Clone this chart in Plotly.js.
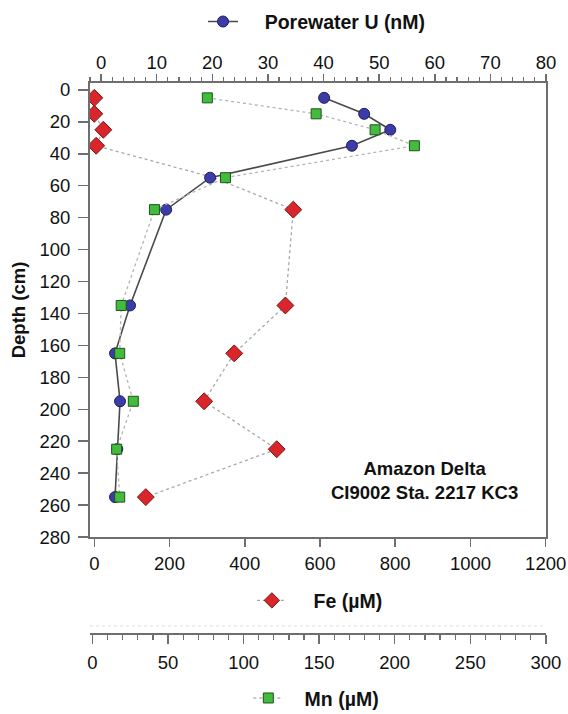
<!DOCTYPE html>
<html>
<head>
<meta charset="utf-8">
<script src="https://cdn.plot.ly/plotly-3.0.1.min.js"></script>
<style>html,body{margin:0;padding:0;background:#fff;}#chart{width:568px;height:714px;}</style>
</head>
<body>
<div id="chart"></div>
<script>
// Depths (cm)
const depthU  = [5, 15, 25, 35, 55, 75, 135, 165, 195, 225, 255];
const uValues = [40.1, 47.3, 52.0, 45.1, 19.6, 11.7, 5.2, 2.5, 3.4, 2.9, 2.5];   // Porewater U (nM)

const depthFe  = [5, 15, 25, 35, 55, 75, 135, 165, 195, 225, 255];
const feValues = [0, 0, 24, 5, 318, 529, 508, 372, 292, 485, 137];               // Fe (µM)

const depthMn  = [5, 15, 25, 35, 55, 75, 135, 165, 195, 225, 255];
const mnValues = [76, 148, 187, 213, 88, 41, 19, 18, 27, 16, 18];                // Mn (µM)

const depthTicks = [0, 20, 40, 60, 80, 100, 120, 140, 160, 180, 200, 220, 240, 260, 280];
const uTicks  = [0, 10, 20, 30, 40, 50, 60, 70, 80];
const feTicks = [0, 200, 400, 600, 800, 1000, 1200];
const mnTicks = [0, 50, 100, 150, 200, 250, 300];

const FONT = 'Liberation Sans, Arial, Helvetica, sans-serif';
const AX = '#6e6e6e';
const tickFont = {family: FONT, size: 18.5, color: '#111'};
const NB = '\u00a0';

// the Fe marker at 55 cm is hidden behind the U / Mn markers in the original figure
const feMarkerSizes = depthFe.map(d => (d === 55 ? 0 : 13));

const traces = [
  {
    x: feValues, y: depthFe, xaxis: 'x', yaxis: 'y', legend: 'legend2',
    name: NB.repeat(4) + '<b>Fe (µM)</b>', type: 'scatter', mode: 'lines+markers',
    line: {color: '#a8a8a8', width: 1.3, dash: 'dot'},
    marker: {symbol: 'diamond', size: feMarkerSizes, opacity: 1, sizemode: 'diameter',
             color: '#d8262b', line: {color: '#7a1414', width: 1}}
  },
  {
    x: uValues, y: depthU, xaxis: 'x2', yaxis: 'y', legend: 'legend',
    name: NB.repeat(4) + '<b>Porewater U (nM)</b>', type: 'scatter', mode: 'lines+markers',
    line: {color: '#4a4a4a', width: 1.6},
    marker: {symbol: 'circle', size: 11, color: '#3c3ca8', line: {color: '#1e1e5e', width: 1}}
  },
  {
    x: mnValues, y: depthMn, xaxis: 'x3', yaxis: 'y', legend: 'legend3',
    name: NB.repeat(3) + '<b>Mn (µM)</b>', type: 'scatter', mode: 'lines+markers',
    line: {color: '#b4b4b4', width: 1.3, dash: 'dot'},
    marker: {symbol: 'square', size: 10, color: '#43bb3c', line: {color: '#1d541b', width: 1}}
  }
];

const legendCommon = {
  orientation: 'h', xanchor: 'left', yanchor: 'middle', bgcolor: 'rgba(0,0,0,0)',
  font: {family: FONT, size: 19.5, color: '#111'}, borderwidth: 0
};

const layout = {
  width: 568, height: 714,
  margin: {l: 90, r: 22, t: 83, b: 80, autoexpand: false},
  paper_bgcolor: '#fff', plot_bgcolor: '#fff',
  showlegend: true,
  xaxis: {
    range: [-11.4, 1200.8], tickmode: 'array', tickvals: feTicks,
    ticks: 'outside', ticklen: 8, tickwidth: 1.5, tickcolor: AX,
    showline: true, linecolor: AX, linewidth: 2, mirror: true,
    showgrid: false, zeroline: false, tickfont: tickFont, ticklabelstandoff: 1
  },
  xaxis2: {
    overlaying: 'x', side: 'top', anchor: 'y',
    range: [-2, 80], tickmode: 'array', tickvals: uTicks,
    ticks: 'outside', ticklen: 7, tickwidth: 1.5, tickcolor: AX,
    minor: {dtick: 2, ticks: 'outside', ticklen: 4, tickwidth: 1.2, tickcolor: AX},
    showline: true, linecolor: AX, linewidth: 2,
    showgrid: false, zeroline: false, tickfont: tickFont, ticklabelstandoff: -2
  },
  xaxis3: {
    overlaying: 'x', anchor: 'free', position: 0,
    range: [-1.65, 300.1], tickmode: 'array', tickvals: mnTicks,
    ticks: 'outside', ticklen: 9, tickwidth: 1.5, tickcolor: AX,
    minor: {dtick: 10, ticks: 'outside', ticklen: 5, tickwidth: 1.2, tickcolor: AX},
    showline: true, linecolor: AX, linewidth: 2,
    showgrid: false, zeroline: false, tickfont: tickFont, ticklabelstandoff: 3
  },
  yaxis: {
    domain: [0.176, 1],
    range: [280, -4.3], tickmode: 'array', tickvals: depthTicks,
    ticks: 'outside', ticklen: 10, tickwidth: 1.5, tickcolor: AX,
    showline: true, linecolor: AX, linewidth: 2, mirror: true,
    showgrid: false, zeroline: false, tickfont: tickFont, ticklabelstandoff: 4,
    title: {text: '<b>Depth (cm)</b>', standoff: 9, font: {family: FONT, size: 18.5, color: '#111'}}
  },
  legend:  Object.assign({}, legendCommon, {x: 0.2478, y: 1.111}),
  legend2: Object.assign({}, legendCommon, {x: 0.355, y: 0.0604}),
  legend3: Object.assign({}, legendCommon, {x: 0.3472, y: -0.1167}),
  annotations: [{
    xref: 'paper', yref: 'paper', x: 0.7325, y: 0.2786, xanchor: 'center', yanchor: 'middle',
    showarrow: false, align: 'center',
    text: '<b>Amazon Delta</b><br><b>CI9002 Sta. 2217 KC3</b>',
    font: {family: FONT, size: 18.5, color: '#111'}
  }],
  shapes: [{
    type: 'line', xref: 'paper', yref: 'paper', x0: 0, x1: 1, y0: 0.0145, y1: 0.0145,
    line: {color: '#dddddd', width: 1, dash: 'dot'}
  }]
};

Plotly.newPlot('chart', traces, layout, {displayModeBar: false, staticPlot: true});
</script>
</body>
</html>
